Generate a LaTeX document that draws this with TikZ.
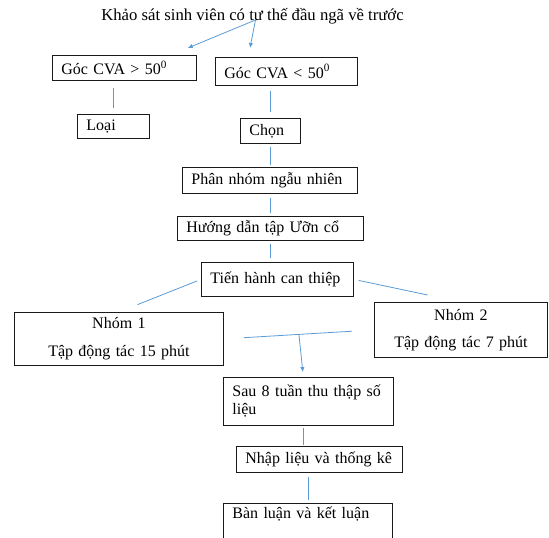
\documentclass[tikz,border=0pt]{standalone}
\usepackage{fontspec}
\setmainfont{Liberation Serif}
\usepackage{xcolor}
\usetikzlibrary{arrows.meta,calc}
\definecolor{wordblue}{HTML}{5B9BD5}
\definecolor{ink}{HTML}{1A1A1A}

\begin{document}
\begin{tikzpicture}[x=1pt, y=-1pt, >={Latex[length=5pt, width=4.5pt]},
  box/.style={draw=ink, line width=0.8pt, inner xsep=9pt, inner ysep=0pt, anchor=north west,
    align=left, font=\fontsize{16}{18}\selectfont},
  link/.style={draw=wordblue, line width=0.8pt}]
  \useasboundingbox (0,0) rectangle (549,538);

  \node[font=\fontsize{16.7}{19}\selectfont, anchor=base, inner sep=0pt] (title) at (252.5,20) {Khảo sát sinh viên có tư thế đầu ngã về trước};

  \node[box, text width=126pt, minimum height=25pt] (gt) at (52,55) {Góc CVA > 50\textsuperscript{0}};
  \node[box, text width=124pt, minimum height=28pt] (lt) at (215,57) {Góc CVA < 50\textsuperscript{0}};
  \node[box, text width=54pt, minimum height=24pt] (loai) at (77,114) {Loại};
  \node[box, text width=42pt, minimum height=25pt] (chon) at (240,118) {Chọn};
  \node[box, text width=157pt, minimum height=26pt] (phan) at (182,167) {Phân nhóm ngẫu nhiên};
  \node[box, text width=168pt, minimum height=24pt] (huong) at (177,216) {Hướng dẫn tập Ưỡn cổ};
  \node[box, text width=134pt, minimum height=34pt] (tien) at (201,262) {Tiến hành can thiệp};
  \node[box, align=center, text width=191pt, minimum height=53pt] (n1) at (14,312) {Nhóm 1\\[10pt]Tập động tác 15 phút};
  \node[box, align=center, text width=155pt, minimum height=55pt] (n2) at (374,302) {Nhóm 2\\[9pt]Tập động tác 7 phút};
  \node[box, text width=152pt, minimum height=48pt] (sau) at (223,377) {Sau 8 tuần thu thập số\\liệu};
  \node[box, text width=148pt, minimum height=26pt] (nhap) at (236,446) {Nhập liệu và thống kê};
  \node[box, text width=151pt, text height=15pt, text depth=33pt] (ban) at (223,503) {Bàn luận và kết luận};

  \draw[link, ->] ([xshift=3pt]title.base) -- ([xshift=-9pt, yshift=7pt]gt.north east);
  \draw[link, ->] ([xshift=3pt]title.base) -- ([xshift=35pt, yshift=9pt]lt.north west);
  \draw[link, shorten <=7pt, shorten >=6pt] (gt.south -| loai.north) -- (loai.north);
  \draw[link, shorten <=5pt, shorten >=6pt] (lt.south -| chon.north) -- (chon.north);
  \draw[link, shorten <=3pt, shorten >=2pt] (chon.south) -- (chon.south |- phan.north);
  \draw[link, shorten <=4pt, shorten >=3pt] (phan.south) -- (phan.south |- huong.north);
  \draw[link, shorten <=3pt, shorten >=4pt] (huong.south) -- (huong.south |- tien.north);
  \draw[link, shorten <=4pt, shorten >=20pt] (tien.west) -- (n1.north);
  \draw[link, shorten <=5pt, shorten >=34pt] (tien.east) -- (n2.north);
  \draw[link, shorten <=20pt, shorten >=22pt] (n1.east) -- (n2.west);
  \coordinate (merge) at ($(n1.east)!0.5!(n2.west)$);
  \draw[link, ->, shorten >=5pt] (merge) -- ([xshift=-5pt]sau.north);
  \draw[link, shorten <=2pt, shorten >=1pt] ([xshift=-5pt]sau.south) -- ([xshift=-5pt]sau.south |- nhap.north);
  \draw[link, shorten <=4pt, shorten >=3pt] (ban.north |- nhap.south) -- (ban.north);
\end{tikzpicture}
\end{document}
